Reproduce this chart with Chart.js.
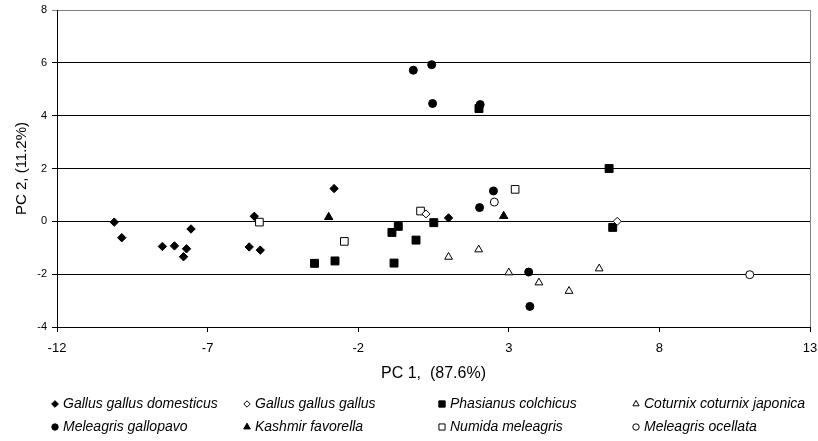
<!DOCTYPE html>
<html>
<head>
<meta charset="utf-8">
<script src="https://cdn.jsdelivr.net/npm/chart.js@4/dist/chart.umd.min.js"></script>
<style>
  html, body { margin: 0; padding: 0; background: #fff; }
  #wrap { width: 818px; height: 441px; position: relative; }
</style>
</head>
<body>
<div id="wrap"><canvas id="pcaChart"></canvas></div>
<script>
// PCA scores, [PC1, PC2]
const species = [
  "Gallus gallus domesticus", "Gallus gallus gallus", "Phasianus colchicus", "Coturnix coturnix japonica",
  "Meleagris gallopavo", "Kashmir favorella", "Numida meleagris", "Meleagris ocellata"
];
const gallusDomesticus = [[-10.1, -0.03], [-9.85, -0.62], [-8.5, -0.95], [-8.1, -0.93], [-7.7, -1.04], [-7.8, -1.34],
  [-7.55, -0.29], [-5.45, 0.19], [-5.62, -0.97], [-5.25, -1.09], [-2.8, 1.24], [1.0, 0.13]];
const gallusGallus = [[0.25, 0.28], [6.6, 0.0]];
const phasianus = [[-3.45, -1.59], [-2.77, -1.5], [-0.88, -0.42], [-0.67, -0.19], [-0.81, -1.58], [-0.08, -0.71],
  [0.51, -0.05], [2.01, 4.27], [6.33, 2.0], [6.45, -0.23]];
const coturnix = [[1.0, -1.35], [2.0, -1.07], [3.0, -1.94], [4.0, -2.32], [5.0, -2.64], [6.0, -1.79]];
const gallopavo = [[-0.17, 5.72], [0.44, 5.93], [0.47, 4.46], [2.05, 4.42], [2.49, 1.15], [2.03, 0.52], [3.66, -1.92], [3.7, -3.22]];
const kashmir = [[-2.98, 0.16], [2.83, 0.2]];
const numida = [[-5.28, -0.03], [-2.46, -0.76], [0.07, 0.39], [3.21, 1.21]];
const ocellata = [[2.52, 0.73], [11.0, -2.02]];

const xTicks = [-12, -7, -2, 3, 8, 13];
const yTicks = [-4, -2, 0, 2, 4, 6, 8];

const seriesData = [gallusDomesticus, gallusGallus, phasianus, coturnix, gallopavo, kashmir, numida, ocellata];
const markers = [
  { style: "rectRot", fill: true, r: 4.2 },
  { style: "rectRot", fill: false, r: 4 },
  { style: "rect", fill: true, r: 5.6 },
  { style: "triangle", fill: false, r: 4.5 },
  { style: "circle", fill: true, r: 4 },
  { style: "triangle", fill: true, r: 4.8 },
  { style: "rect", fill: false, r: 5.4 },
  { style: "circle", fill: false, r: 4 }
];

const datasets = seriesData.map((pts, i) => ({
  label: species[i],
  data: pts.map(p => ({ x: p[0], y: p[1] })),
  pointStyle: markers[i].style,
  pointRadius: markers[i].r,
  pointHoverRadius: markers[i].r,
  backgroundColor: markers[i].fill ? "#000" : "#fff",
  borderColor: "#000",
  borderWidth: 1
}));

// legend laid out as a 4 x 2 grid under the axis title
const gridLegend = {
  id: "gridLegend",
  afterDraw(chart) {
    const ctx = chart.ctx;
    const cols = [55, 247, 442, 636];
    const rows = [404, 427];
    ctx.save();
    ctx.font = "italic 14px 'Liberation Sans', Arial, sans-serif";
    ctx.textBaseline = "middle";
    species.forEach((name, i) => {
      const x = cols[i % 4], y = rows[Math.floor(i / 4)];
      const m = markers[i];
      ctx.fillStyle = m.fill ? "#000" : "#fff";
      ctx.strokeStyle = "#000";
      ctx.lineWidth = 1;
      Chart.helpers.drawPoint(ctx, { pointStyle: m.style, radius: m.r * 0.8, rotation: 0, borderWidth: 1 }, x, y);
      ctx.fillStyle = "#000";
      ctx.fillText(name, x + 8, y);
    });
    ctx.restore();
  }
};

// grey frame on the right side of the plot area
const rightFrame = {
  id: "rightFrame",
  beforeDatasetsDraw(chart) {
    const { ctx, chartArea } = chart;
    ctx.save();
    ctx.strokeStyle = "#808080";
    ctx.lineWidth = 1;
    ctx.beginPath();
    ctx.moveTo(Math.round(chartArea.right) + 0.5, chartArea.top);
    ctx.lineTo(Math.round(chartArea.right) + 0.5, chartArea.bottom);
    ctx.stroke();
    ctx.restore();
  }
};

new Chart(document.getElementById("pcaChart"), {
  type: "scatter",
  data: { datasets },
  plugins: [gridLegend, rightFrame],
  options: {
    responsive: true,
    maintainAspectRatio: false,
    animation: false,
    layout: { padding: { left: 0, right: 8, top: 10, bottom: 54 } },
    plugins: {
      legend: { display: false },
      tooltip: { enabled: false }
    },
    scales: {
      x: {
        type: "linear",
        min: -12,
        max: 13,
        afterBuildTicks: s => { s.ticks = xTicks.map(v => ({ value: v })); },
        afterFit: s => { s.height = 60; s.paddingLeft = 0; s.paddingRight = 0; },
        ticks: { color: "#000", font: { size: 13, family: "'Liberation Sans', Arial" }, padding: 9, maxRotation: 0 },
        grid: { drawOnChartArea: false, drawTicks: true, tickLength: 5, color: "#000" },
        border: { color: "#000" },
        title: {
          display: true,
          text: "PC 1,  (87.6%)",
          color: "#000",
          font: { size: 16, family: "'Liberation Sans', Arial" },
          padding: { top: 0, bottom: 4 }
        }
      },
      y: {
        type: "linear",
        min: -4,
        max: 8,
        afterBuildTicks: s => { s.ticks = yTicks.map(v => ({ value: v })); },
        afterFit: s => { s.width = 57; s.paddingTop = 0; s.paddingBottom = 0; },
        ticks: { color: "#000", font: { size: 11, family: "'Liberation Sans', Arial" }, padding: 5 },
        grid: {
          color: c => (c.tick && c.tick.value === 8 ? "#808080" : "#000"),
          tickLength: 5
        },
        border: { color: "#000" },
        title: {
          display: true,
          text: "PC 2, (11.2%)",
          color: "#000",
          font: { size: 15, family: "'Liberation Sans', Arial" },
          padding: { top: 13, bottom: 0 }
        }
      }
    }
  }
});
</script>
</body>
</html>
